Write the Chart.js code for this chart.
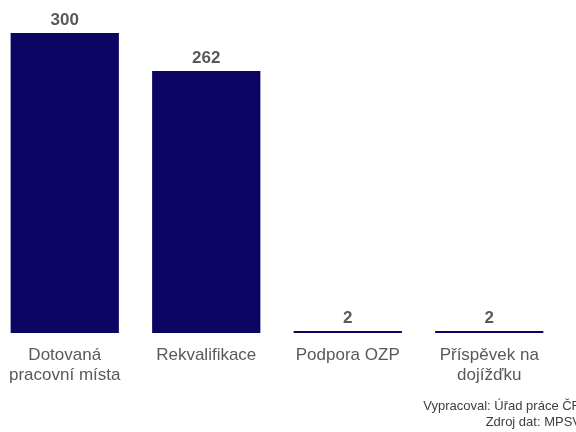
<!DOCTYPE html>
<html lang="cs">
<head>
<meta charset="UTF-8">
<title>Nástroje APZ</title>
<script src="https://cdn.jsdelivr.net/npm/chart.js"></script>
<style>
  html, body { margin: 0; padding: 0; background: #fff; overflow: hidden; }
  #wrap { position: absolute; left: -6px; top: 0; width: 590px; height: 432px; }
</style>
</head>
<body>
<div id="wrap"><canvas id="apzChart"></canvas></div>
<script>
const categories = [['Dotovaná', 'pracovní místa'], 'Rekvalifikace', 'Podpora OZP', ['Příspěvek na', 'dojížďku']];
const values = [300, 262, 2, 2];
const sourceLines = ['Vypracoval: Úřad práce ČR', 'Zdroj dat: MPSV'];

const barColor = '#0c0563';
const textColor = '#595959';
const fontFamily = '"Liberation Sans", Arial, sans-serif';

// value labels above bars
const valueLabels = {
    id: 'valueLabels',
    afterDatasetsDraw(chart) {
        const ctx = chart.ctx;
        const meta = chart.getDatasetMeta(0);
        ctx.save();
        ctx.font = 'bold 17px ' + fontFamily;
        ctx.fillStyle = textColor;
        ctx.textAlign = 'center';
        ctx.textBaseline = 'alphabetic';
        meta.data.forEach((bar, i) => {
            ctx.fillText(values[i], bar.x, bar.y - 8);
        });
        ctx.restore();
    }
};

// source note, bottom right
const sourceNote = {
    id: 'sourceNote',
    afterDraw(chart) {
        const ctx = chart.ctx;
        ctx.save();
        ctx.font = '13px ' + fontFamily;
        ctx.fillStyle = '#404040';
        ctx.textAlign = 'right';
        ctx.textBaseline = 'alphabetic';
        ctx.fillText(sourceLines[0], chart.width - 3, 410);
        ctx.fillText(sourceLines[1], chart.width - 3, 426);
        ctx.restore();
    }
};

new Chart(document.getElementById('apzChart').getContext('2d'), {
    type: 'bar',
    data: {
        labels: categories,
        datasets: [{
            data: values,
            backgroundColor: barColor,
            borderWidth: 0,
            categoryPercentage: 1,
            barPercentage: 0.765
        }]
    },
    options: {
        responsive: true,
        maintainAspectRatio: false,
        animation: false,
        layout: { padding: { top: 33, right: 24, left: 0, bottom: 0 } },
        plugins: {
            legend: { display: false },
            tooltip: { enabled: false }
        },
        scales: {
            x: {
                grid: { display: false, drawTicks: false },
                border: { display: false },
                ticks: {
                    color: textColor,
                    font: { family: fontFamily, size: 17 },
                    padding: 12,
                    maxRotation: 0,
                    autoSkip: false
                },
                afterFit(scale) { scale.height = 99; }
            },
            y: {
                display: false,
                min: 0,
                max: 300
            }
        }
    },
    plugins: [valueLabels, sourceNote]
});
</script>
</body>
</html>
